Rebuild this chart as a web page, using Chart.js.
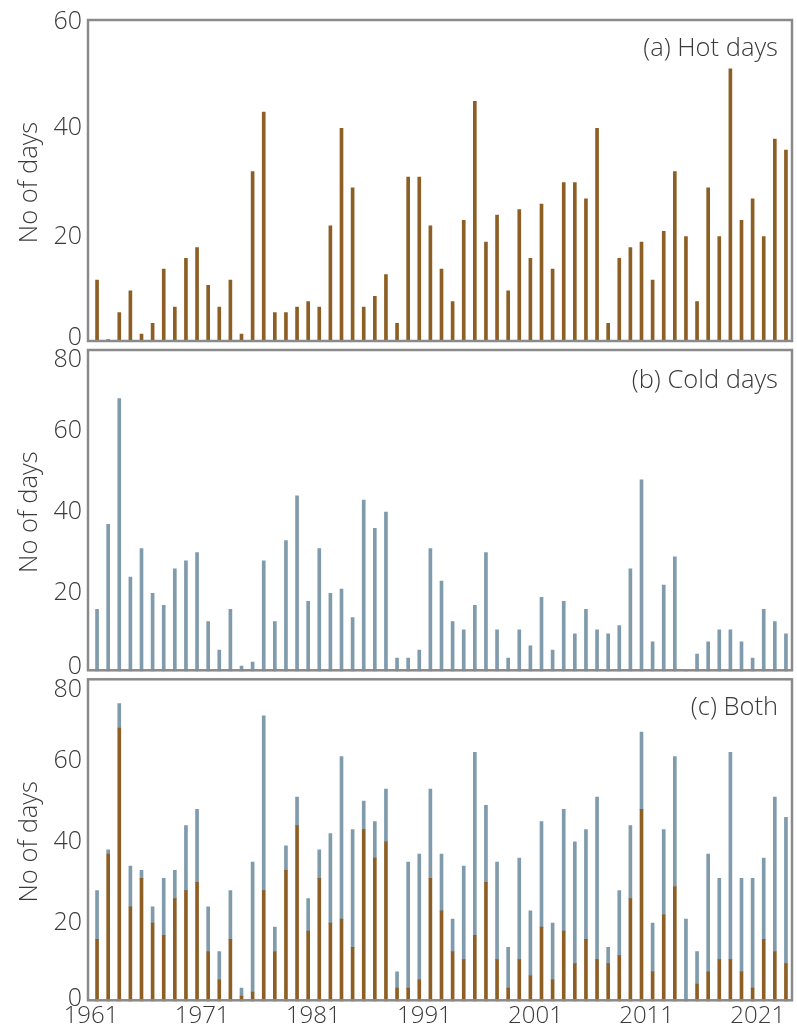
<!DOCTYPE html>
<html>
<head>
<meta charset="utf-8">
<script src="https://cdn.jsdelivr.net/npm/chart.js@4.4.1/dist/chart.umd.min.js"></script>
<style>
html,body{margin:0;padding:0;background:#fff;}
#wrap{position:relative;width:797px;height:1029px;overflow:hidden;background:#fff;}
canvas{position:absolute;left:0;}
</style>
</head>
<body>
<div id="wrap">
<canvas id="ca" width="797" height="347" style="top:0px"></canvas>
<canvas id="cb" width="797" height="330" style="top:347px"></canvas>
<canvas id="cc" width="797" height="352" style="top:677px"></canvas>
</div>
<script>
// ---- data ----
const years = [1961,1962,1963,1964,1965,1966,1967,1968,1969,1970,
  1971,1972,1973,1974,1975,1976,1977,1978,1979,1980,
  1981,1982,1983,1984,1985,1986,1987,1988,1989,1990,
  1991,1992,1993,1994,1995,1996,1997,1998,1999,2000,
  2001,2002,2003,2004,2005,2006,2007,2008,2009,2010,
  2011,2012,2013,2014,2015,2016,2017,2018,2019,2020,
  2021,2022,2023];
const hotDays = [12,1,6,10,2,4,14,7,16,18,
  11,7,12,2,32,43,6,6,7,8,
  7,22,40,29,7,9,13,4,31,31,
  22,14,8,23,45,19,24,10,25,16,
  26,14,30,30,27,40,4,16,18,19,
  12,21,32,20,8,29,20,51,23,27,
  20,38,36];
const coldDays = [16,37,68,24,31,20,17,26,28,30,
  13,6,16,2,3,28,13,33,44,18,
  31,20,21,14,43,36,40,4,4,6,
  31,23,13,11,17,30,11,4,11,7,
  19,6,18,10,16,11,10,12,26,48,
  8,22,29,1,5,8,11,11,8,4,
  16,13,10];
const xTickYears = [1961,1971,1981,1991,2001,2011,2021];
const panelTitles = ['(a) Hot days','(b) Cold days','(c) Both'];
const axisTitle = 'No of days';

// ---- styles ----
const FONT = '"Open Sans", "DejaVu Sans", sans-serif';
const TXT = '#3a3a3a';
const HOT = '#8d5f24';
const COLD = '#7f9bac';
const FRAME = '#8a8a8a';

const framePlugin = {
  id: 'frame',
  afterDatasetsDraw(chart, args, o) {
    const a = chart.chartArea, ctx = chart.ctx;
    ctx.save();
    ctx.strokeStyle = FRAME;
    ctx.lineWidth = 2.5;
    const l = a.left - 3.5, r = a.right + 0.5, t = a.top, b = a.bottom - 4;
    ctx.strokeRect(l, t, r - l, b - t);
    ctx.fillStyle = TXT;
    ctx.font = '300 25.5px ' + FONT;
    ctx.textAlign = 'right';
    ctx.textBaseline = 'alphabetic';
    ctx.fillText(o.text, 778, a.top + o.dy);
    ctx.restore();
  }
};

const shiftPlugin = {
  id: 'shiftEnds',
  beforeDraw(chart, args, o) {
    const s = chart.scales.y;
    if (!s || !s.getLabelItems) return;
    const items = s.getLabelItems();
    if (!items || !items.length || items._shifted) return;
    const first = items[0], last = items[items.length - 1];
    if (first.options && first.options.translation) first.options.translation[1] += o.bottom;
    if (last.options && last.options.translation) last.options.translation[1] += o.top;
    items._shifted = true;
  }
};

function yScale(max, stacked) {
  return {
    min: 0, max: max, stacked: !!stacked,
    ticks: { stepSize: 20, padding: 9.5, color: TXT, font: { family: FONT, size: 25, weight: '300' } },
    grid: { display: false, drawTicks: false },
    border: { display: false },
    title: { display: true, text: axisTitle, color: TXT,
      font: { family: FONT, size: 25.5, weight: '300' }, padding: { top: 14.5, bottom: 0 } },
    afterFit(s) { s.width = 91.5; s.paddingTop = 0; s.paddingBottom = 0; }
  };
}

function hiddenX(stacked) {
  return { type: 'category', display: false, offset: true, stacked: !!stacked, grid: { display: false } };
}

const clipOpt = { left: 5, top: 5, right: 5, bottom: -3 };

function barSet(label, data, color) {
  return { label, data, backgroundColor: color, borderWidth: 0, barThickness: 3, clip: clipOpt };
}

function baseOptions(padding, scales, panelIdx, shifts) {
  return {
    responsive: false, animation: false, maintainAspectRatio: false,
    layout: { padding: padding },
    plugins: { legend: { display: false }, tooltip: { enabled: false },
      frame: { text: panelTitles[panelIdx], dy: shifts.titleDy },
      shiftEnds: { top: shifts.top, bottom: shifts.bottom } },
    scales: scales
  };
}

function draw() {
  new Chart(document.getElementById('ca'), {
    type: 'bar',
    data: { labels: years, datasets: [barSet('Hot days', hotDays, HOT)] },
    options: baseOptions({ top: 20, right: 5.5, bottom: 2, left: 0 },
      { x: hiddenX(false), y: yScale(60) }, 0, { top: 2, bottom: -7, titleDy: 36 }),
    plugins: [framePlugin, shiftPlugin]
  });

  new Chart(document.getElementById('cb'), {
    type: 'bar',
    data: { labels: years, datasets: [barSet('Cold days', coldDays, COLD)] },
    options: baseOptions({ top: 3, right: 5.5, bottom: 2.7, left: 0 },
      { x: hiddenX(false), y: yScale(80) }, 1, { top: 10, bottom: -7, titleDy: 38 }),
    plugins: [framePlugin, shiftPlugin]
  });

  new Chart(document.getElementById('cc'), {
    type: 'bar',
    data: { labels: years, datasets: [
      barSet('Cold days', coldDays, HOT),
      barSet('Hot days', hotDays, COLD)
    ] },
    options: baseOptions({ top: 2.3, right: 5.5, bottom: 0, left: 0 }, {
      x: {
        type: 'category', offset: true, stacked: true,
        grid: { display: false, drawTicks: false },
        border: { display: false },
        ticks: {
          autoSkip: false, maxRotation: 0, minRotation: 0, padding: -3, labelOffset: -6,
          color: TXT, font: { family: FONT, size: 24, weight: '300' },
          callback: function(v, i) { const y = years[i]; return xTickYears.includes(y) ? String(y) : ''; }
        },
        afterFit(s) { s.height = 24.7; s.paddingLeft = 0; s.paddingRight = 0; }
      },
      y: yScale(80, true)
    }, 2, { top: 11, bottom: -5, titleDy: 36 }),
    plugins: [framePlugin, shiftPlugin]
  });
}

if (document.fonts && document.fonts.load) {
  Promise.all([
    document.fonts.load('300 22px "Open Sans"'),
    document.fonts.load('400 22px "Open Sans"')
  ]).then(draw, draw);
} else { draw(); }
</script>
</body>
</html>
